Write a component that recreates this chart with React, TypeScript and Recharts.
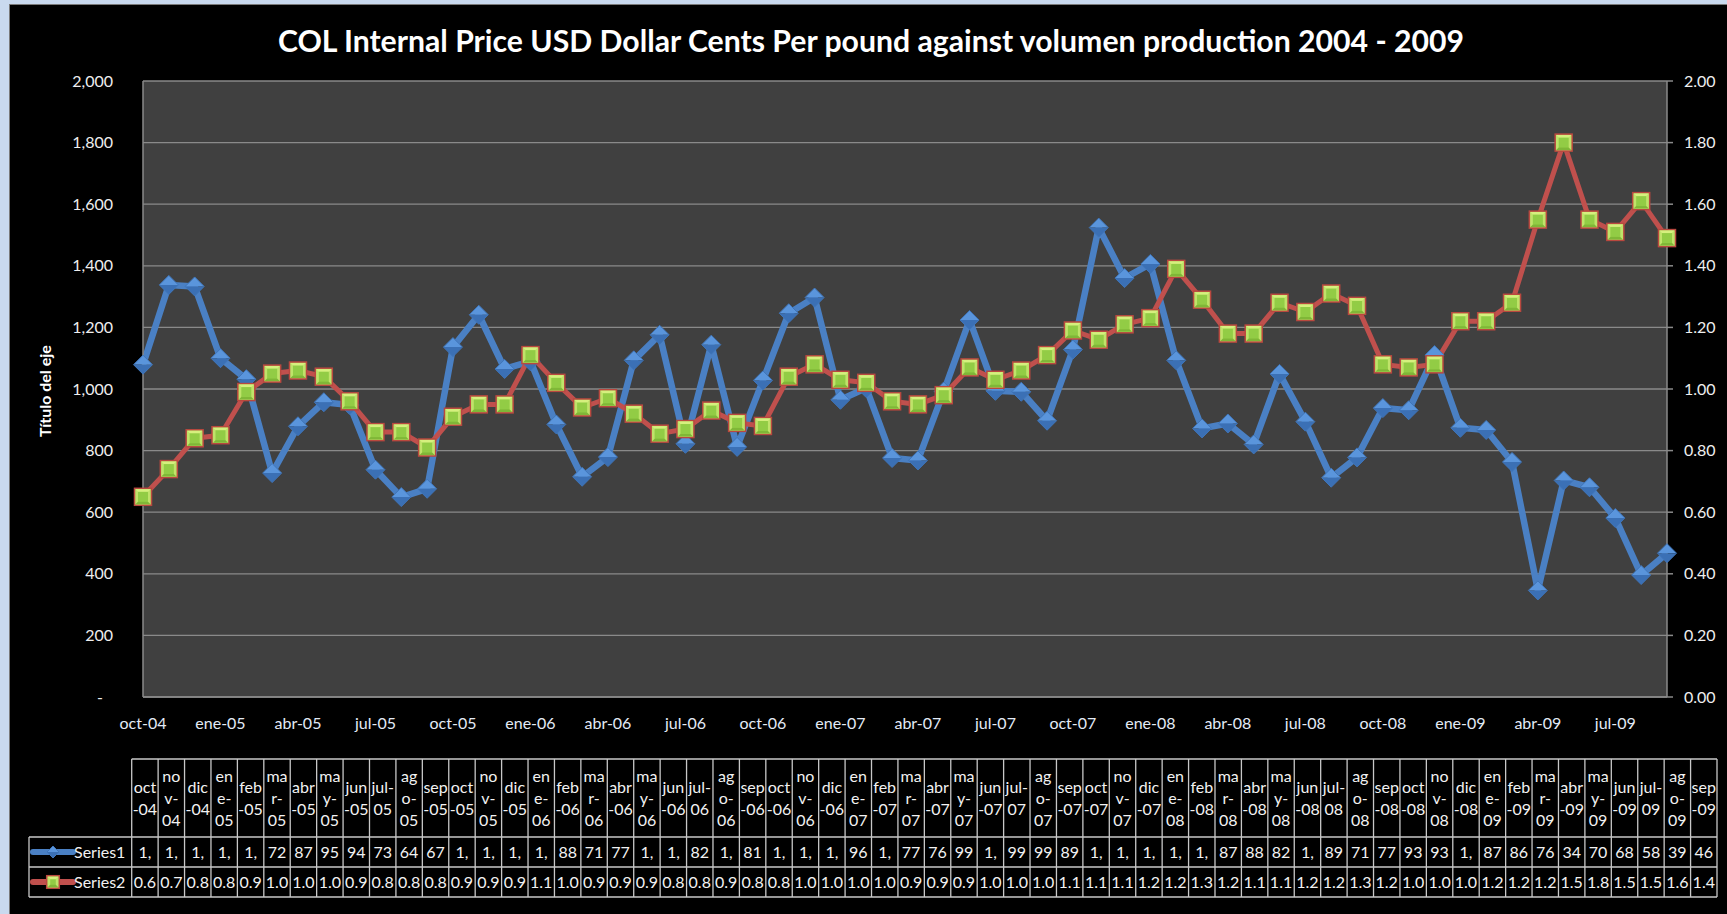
import React from 'react';
import { ComposedChart, Line, XAxis, YAxis, CartesianGrid } from 'recharts';

const categories = [
  'oct-04','nov-04','dic-04','ene-05','feb-05','mar-05','abr-05','may-05','jun-05','jul-05','ago-05','sep-05',
  'oct-05','nov-05','dic-05','ene-06','feb-06','mar-06','abr-06','may-06','jun-06','jul-06','ago-06','sep-06',
  'oct-06','nov-06','dic-06','ene-07','feb-07','mar-07','abr-07','may-07','jun-07','jul-07','ago-07','sep-07',
  'oct-07','nov-07','dic-07','ene-08','feb-08','mar-08','abr-08','may-08','jun-08','jul-08','ago-08','sep-08',
  'oct-08','nov-08','dic-08','ene-09','feb-09','mar-09','abr-09','may-09','jun-09','jul-09','ago-09','sep-09',
];

const series1 = [
  1079, 1338, 1333, 1100, 1032, 727, 879, 957, 948, 738, 649, 676,
  1136, 1241, 1065, 1090, 885, 715, 779, 1093, 1176, 822, 1144, 812,
  1028, 1246, 1297, 965, 1003, 776, 768, 992, 1224, 994, 991, 897,
  1128, 1524, 1360, 1406, 1093, 872, 888, 820, 1049, 894, 712, 778,
  938, 931, 1110, 874, 867, 763, 346, 703, 681, 581, 396, 467,
];

const series2 = [
  0.65, 0.74, 0.84, 0.85, 0.99, 1.05, 1.06, 1.04, 0.96, 0.86, 0.86, 0.81,
  0.91, 0.95, 0.95, 1.11, 1.02, 0.94, 0.97, 0.92, 0.855, 0.87, 0.93, 0.89,
  0.88, 1.04, 1.08, 1.03, 1.02, 0.96, 0.95, 0.98, 1.07, 1.03, 1.06, 1.11,
  1.19, 1.16, 1.21, 1.23, 1.39, 1.29, 1.18, 1.18, 1.28, 1.25, 1.31, 1.27,
  1.08, 1.07, 1.08, 1.22, 1.22, 1.28, 1.55, 1.80, 1.55, 1.51, 1.61, 1.49,
];

const leftTicks = [0, 200, 400, 600, 800, 1000, 1200, 1400, 1600, 1800, 2000];
const rightTicks = [0, 0.2, 0.4, 0.6, 0.8, 1.0, 1.2, 1.4, 1.6, 1.8, 2.0];

const seriesNames = ['Series1', 'Series2'];
const titleText = 'COL Internal Price USD Dollar Cents Per pound against volumen production 2004 - 2009';
const axisTitle = 'Título del eje';

const data = categories.map((c, i) => ({ cat: c, s1: series1[i], s2: series2[i] }));

// ---------- layout constants ----------
const W = 1727;
const H = 914;
const PLOT_L = 143;
const PLOT_R = 1667;
const PLOT_T = 81;
const PLOT_B = 697;
const FONT = 'Lato, "Open Sans", sans-serif';
const BLUE = '#4a80c4';
const RED = '#c0504d';

// Excel-like greedy wrap (Calibri 18px metrics)
const CW: Record<string, number> = {
  a: 0.479, b: 0.525, c: 0.423, d: 0.525, e: 0.498, f: 0.305, g: 0.471, i: 0.229, j: 0.239,
  l: 0.229, m: 0.799, n: 0.525, o: 0.527, p: 0.525, r: 0.349, s: 0.391, t: 0.335, u: 0.525,
  v: 0.452, y: 0.453, '-': 0.306, ',': 0.25, '.': 0.252,
};
const measure = (s: string) => s.split('').reduce((a, ch) => a + (CW[ch] ?? 0.507), 0) * 18;
function wrapLines(s: string, maxW = 26): string[] {
  const lines: string[] = [];
  let rest = s;
  while (rest.length) {
    let n = 0;
    while (n < rest.length && measure(rest.slice(0, n + 1)) <= maxW) n++;
    if (n === 0) n = 1;
    if (n < rest.length) {
      const pre = rest.slice(0, n);
      const k = Math.max(pre.lastIndexOf('-'), pre.lastIndexOf(','));
      if (k >= 0 && k < n - 1) n = k + 1;
    }
    lines.push(rest.slice(0, n));
    rest = rest.slice(n);
  }
  return lines;
}

const LeftTick = (props: any) => {
  const { x, y, payload } = props;
  const v = payload.value as number;
  return (
    <text x={v === 0 ? x - 10 : x} y={y} dy={5.5} textAnchor="end" fill="#eeeeee" fontSize={16} fontFamily={FONT}>
      {v === 0 ? '-' : v.toLocaleString('en-US')}
    </text>
  );
};

const RightTick = (props: any) => {
  const { x, y, payload } = props;
  const v = payload.value as number;
  return (
    <text x={x} y={y} dy={5.5} textAnchor="start" fill="#eeeeee" fontSize={16} fontFamily={FONT}>
      {v.toFixed(2)}
    </text>
  );
};

const XTick = (props: any) => {
  const { x, y, payload } = props;
  return (
    <text x={x} y={y} dy={12} textAnchor="middle" fill="#e3ebf6" fontSize={16} fontFamily={FONT}>
      {payload.value}
    </text>
  );
};

const Diamond = ({ cx, cy, r = 9.5 }: { cx: number; cy: number; r?: number }) => (
  <g>
    <polygon points={`${cx - r},${cy} ${cx},${cy - r} ${cx + r},${cy}`} fill="#5a95dc" />
    <polygon points={`${cx - r},${cy} ${cx},${cy + r} ${cx + r},${cy}`} fill="#3b70b5" />
    <polygon points={`${cx - r},${cy} ${cx},${cy - r} ${cx + r},${cy} ${cx},${cy + r}`} fill="none" stroke="#3f75b9" strokeWidth={1} />
  </g>
);

const GreenSquare = ({ cx, cy, s = 8.5 }: { cx: number; cy: number; s?: number }) => (
  <g>
    <rect x={cx - s} y={cy - s} width={2 * s} height={2 * s} fill="#bfe36a" stroke="#b9483f" strokeWidth={1.5} />
    <polygon points={`${cx - s + 1},${cy - s + 1} ${cx + s - 1},${cy - s + 1} ${cx},${cy}`} fill="#d6f07e" />
    <polygon points={`${cx - s + 1},${cy + s - 1} ${cx + s - 1},${cy + s - 1} ${cx},${cy}`} fill="#7fb737" />
    <rect x={cx - s + 3.5} y={cy - s + 3.5} width={2 * s - 7} height={2 * s - 7} fill="#92cc45" />
  </g>
);

const renderDiamond = (p: any) => <Diamond key={`d-${p.index}`} cx={p.cx} cy={p.cy} />;
const renderSquare = (p: any) => <GreenSquare key={`s-${p.index}`} cx={p.cx} cy={p.cy} />;

// ---------- data table ----------
const TBL_L = 29;
const TBL_C0 = 131.7;
const TBL_R = 1717;
const TBL_T = 759;
const TBL_H1 = 837;
const TBL_H2 = 867;
const TBL_H3 = 897;
const colW = (TBL_R - TBL_C0) / categories.length;

const DataTable = () => {
  const lines: React.ReactNode[] = [];
  const stroke = '#c8c8c8';
  const sw = 1.3;
  lines.push(<line key="h0" x1={TBL_C0} x2={TBL_R} y1={TBL_T} y2={TBL_T} stroke={stroke} strokeWidth={sw} />);
  [TBL_H1, TBL_H2, TBL_H3].forEach((y, k) =>
    lines.push(<line key={`h${k + 1}`} x1={TBL_L} x2={TBL_R} y1={y} y2={y} stroke={stroke} strokeWidth={sw} />)
  );
  lines.push(<line key="vL" x1={TBL_L} x2={TBL_L} y1={TBL_H1} y2={TBL_H3} stroke={stroke} strokeWidth={sw} />);
  for (let i = 0; i <= categories.length; i++) {
    const x = TBL_C0 + i * colW;
    lines.push(<line key={`v${i}`} x1={x} x2={x} y1={TBL_T} y2={TBL_H3} stroke={stroke} strokeWidth={sw} />);
  }
  const texts: React.ReactNode[] = [];
  const hc = (TBL_T + TBL_H1) / 2;
  categories.forEach((c, i) => {
    const cx = TBL_C0 + (i + 0.5) * colW;
    const ls = wrapLines(c);
    ls.forEach((l, j) => {
      texts.push(
        <text key={`hd${i}-${j}`} x={cx} y={hc + (j - (ls.length - 1) / 2) * 22} dy={5.5} textAnchor="middle" fill="#f2f2f2" fontSize={16} fontFamily={FONT}>
          {l}
        </text>
      );
    });
    const v1 = wrapLines(series1[i].toLocaleString('en-US'))[0];
    const v2 = wrapLines(String(series2[i]))[0];
    texts.push(
      <text key={`r1${i}`} x={cx} y={(TBL_H1 + TBL_H2) / 2} dy={5.5} textAnchor="middle" fill="#f2f2f2" fontSize={16} fontFamily={FONT}>{v1}</text>
    );
    texts.push(
      <text key={`r2${i}`} x={cx} y={(TBL_H2 + TBL_H3) / 2} dy={5.5} textAnchor="middle" fill="#f2f2f2" fontSize={16} fontFamily={FONT}>{v2}</text>
    );
  });
  const y1 = (TBL_H1 + TBL_H2) / 2;
  const y2 = (TBL_H2 + TBL_H3) / 2;
  return (
    <g>
      {lines}
      {texts}
      <line x1={33} x2={73} y1={y1} y2={y1} stroke={BLUE} strokeWidth={6} strokeLinecap="round" />
      <Diamond cx={53} cy={y1} r={6} />
      <text x={74} y={y1} dy={5.5} fill="#f2f2f2" fontSize={16} fontFamily={FONT}>{seriesNames[0]}</text>
      <line x1={33} x2={73} y1={y2} y2={y2} stroke={RED} strokeWidth={6} strokeLinecap="round" />
      <GreenSquare cx={53} cy={y2} s={6.3} />
      <text x={74} y={y2} dy={5.5} fill="#f2f2f2" fontSize={16} fontFamily={FONT}>{seriesNames[1]}</text>
    </g>
  );
};

export default function App() {
  return (
    <div style={{ position: 'fixed', left: 0, top: 0, width: W, height: H, background: '#c9d9ee', overflow: 'hidden' }}>
      <div
        style={{
          position: 'absolute', left: 9, top: 4, width: W - 9, height: H - 4, background: '#000',
          borderLeft: '1px solid #7a7a7a', borderTop: '1px solid #7a7a7a', boxSizing: 'border-box',
        }}
      />
      <div style={{ position: 'absolute', left: 0, top: 0 }}>
        <ComposedChart width={W} height={H} data={data} margin={{ top: PLOT_T, right: W - PLOT_R - 60, bottom: H - PLOT_B - 40, left: 0 }}>
          <CartesianGrid yAxisId="left" vertical={false} stroke="#8a8a8a" strokeWidth={1.3} fill="#404040" fillOpacity={1} />
          <XAxis
            dataKey="cat"
            interval={2}
            tickLine={false}
            axisLine={{ stroke: '#8a8a8a', strokeWidth: 1.5 }}
            tick={<XTick />}
            tickMargin={14}
            height={40}
          />
          <YAxis
            yAxisId="left"
            width={PLOT_L}
            domain={[0, 2000]}
            ticks={leftTicks}
            interval={0}
            tick={<LeftTick />}
            tickLine={false}
            tickMargin={24}
            axisLine={{ stroke: '#8a8a8a', strokeWidth: 1.5 }}
          />
          <YAxis
            yAxisId="right"
            orientation="right"
            width={60}
            domain={[0, 2]}
            ticks={rightTicks}
            interval={0}
            tick={<RightTick />}
            tickLine={{ stroke: '#8a8a8a', strokeWidth: 1.5 }}
            tickSize={6}
            tickMargin={11}
            axisLine={{ stroke: '#8a8a8a', strokeWidth: 1.5 }}
          />
          <Line
            yAxisId="left"
            dataKey="s1"
            name={seriesNames[0]}
            stroke={BLUE}
            strokeWidth={6.5}
            strokeLinejoin="round"
            dot={renderDiamond}
            activeDot={false}
            isAnimationActive={false}
          />
          <Line
            yAxisId="right"
            dataKey="s2"
            name={seriesNames[1]}
            stroke={RED}
            strokeWidth={5}
            strokeLinejoin="round"
            dot={renderSquare}
            activeDot={false}
            isAnimationActive={false}
          />
        </ComposedChart>
      </div>
      <svg width={W} height={H} style={{ position: 'absolute', left: 0, top: 0, pointerEvents: 'none' }}>
        <text x={871} y={41} dy={10.5} textAnchor="middle" fill="#ffffff" fontSize={30.2} fontWeight="bold" fontFamily={FONT}>
          {titleText}
        </text>
        <text x={45} y={391} dy={6} textAnchor="middle" fill="#ffffff" fontSize={16} fontWeight="bold" fontFamily={FONT} transform="rotate(-90 45 391)">
          {axisTitle}
        </text>
        <DataTable />
      </svg>
    </div>
  );
}
